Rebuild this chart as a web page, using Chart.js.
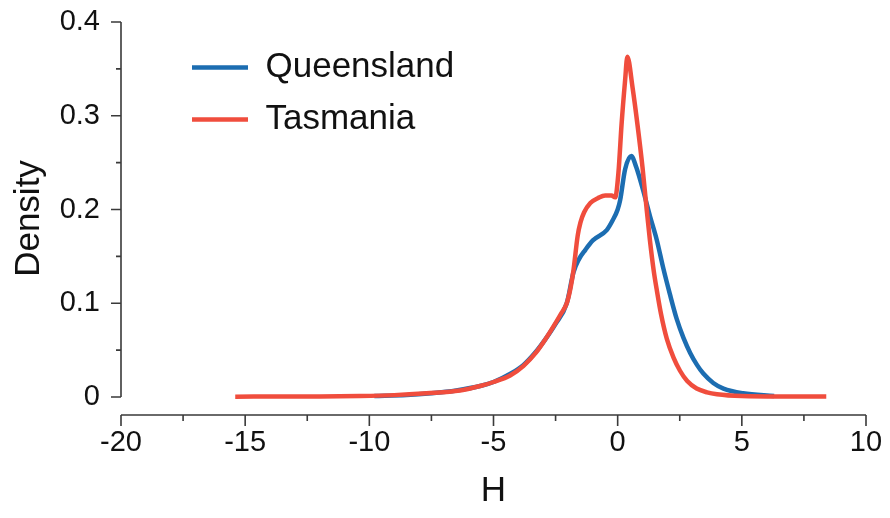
<!DOCTYPE html>
<html lang="en">
<head>
  <meta charset="UTF-8" />
  <title>Density of H</title>
  <script src="https://cdn.jsdelivr.net/npm/chart.js"></script>
  <style>
    html, body { margin: 0; padding: 0; background: #fff; }
    #wrap { width: 890px; height: 518px; }
  </style>
</head>
<body>
  <div id="wrap"><canvas id="chart" width="890" height="518"></canvas></div>

  <script>
    // values
    const hQueensland = [-9.8, -8.5, -7.5, -6.5, -5.5, -5, -4.3, -3.8, -3.3, -2.9, -2.5, -2.05, -1.78, -1.58, -1.3, -1.0, -0.44, -0.19, 0.0, 0.1, 0.3, 0.55, 0.75, 1.03, 1.3, 1.57, 1.84, 2.1, 2.38, 2.65, 2.92, 3.2, 3.45, 3.85, 4.26, 5.05, 6.3];
    const densityQueensland = [0.001, 0.002, 0.004, 0.007, 0.012, 0.016, 0.025, 0.034, 0.048, 0.062, 0.078, 0.100, 0.133, 0.146, 0.157, 0.167, 0.178, 0.189, 0.200, 0.210, 0.243, 0.257, 0.245, 0.220, 0.193, 0.168, 0.137, 0.110, 0.083, 0.063, 0.047, 0.034, 0.025, 0.015, 0.009, 0.004, 0.001];

    const hTasmania = [-15.4, -12, -10.4, -9, -7.7, -6.35, -5.5, -5.0, -4.33, -3.8, -3.3, -2.9, -2.59, -2.3, -2.05, -1.9, -1.78, -1.61, -1.5, -1.35, -1.1, -0.8, -0.5, -0.25, -0.1, 0.03, 0.16, 0.3, 0.39, 0.6, 0.8, 1.0, 1.15, 1.3, 1.45, 1.57, 1.75, 1.98, 2.25, 2.51, 2.8, 3.18, 3.6, 4.0, 5.0, 6.5, 8.4];
    const densityTasmania = [0.0004, 0.0005, 0.001, 0.002, 0.004, 0.007, 0.012, 0.016, 0.023, 0.033, 0.047, 0.062, 0.075, 0.088, 0.100, 0.116, 0.135, 0.172, 0.186, 0.197, 0.207, 0.212, 0.215, 0.215, 0.213, 0.239, 0.292, 0.338, 0.363, 0.330, 0.290, 0.245, 0.205, 0.167, 0.135, 0.115, 0.088, 0.062, 0.042, 0.028, 0.017, 0.009, 0.005, 0.003, 0.001, 0.0005, 0.0005];

    const xTicks = [-20, -15, -10, -5, 0, 5, 10];
    const yTicks = [0, 0.1, 0.2, 0.3, 0.4];
    const yTickLabels = ['0', '0.1', '0.2', '0.3', '0.4'];

    const BLUE = '#1c6db1';
    const RED = '#f04d3d';
    const AXIS = '#3a3a3a';
    const FONT = "'Liberation Sans', Arial, sans-serif";

    const toPoints = (xs, ys) => xs.map((x, i) => ({ x, y: ys[i] }));

    // detached axis lines with major + minor ticks (x axis sits below y = 0)
    const offsetAxes = {
      id: 'offsetAxes',
      afterDraw(chart) {
        const { ctx, chartArea, scales } = chart;
        const xs = scales.x, ys = scales.y;
        ctx.save();
        ctx.strokeStyle = AXIS;
        ctx.lineWidth = 1.6;
        ctx.beginPath();
        // x axis
        const yx = chartArea.bottom;
        ctx.moveTo(xs.getPixelForValue(xTicks[0]), yx);
        ctx.lineTo(xs.getPixelForValue(xTicks[xTicks.length - 1]), yx);
        for (let v = xTicks[0]; v <= xTicks[xTicks.length - 1] + 1e-9; v += 2.5) {
          const px = xs.getPixelForValue(v);
          const len = Math.abs(v % 5) < 1e-9 ? 11 : 6;
          ctx.moveTo(px, yx);
          ctx.lineTo(px, yx + len);
        }
        // y axis
        const xy = chartArea.left;
        ctx.moveTo(xy, ys.getPixelForValue(yTicks[0]));
        ctx.lineTo(xy, ys.getPixelForValue(yTicks[yTicks.length - 1]));
        for (let i = 0; i <= 8; i++) {
          const v = i * 0.05;
          const py = ys.getPixelForValue(v);
          const len = i % 2 === 0 ? 10 : 5;
          ctx.moveTo(xy, py);
          ctx.lineTo(xy - len, py);
        }
        ctx.stroke();
        ctx.restore();
      }
    };

    // nudge the in-plot legend to where the figure has it
    const legendShift = {
      id: 'legendShift',
      beforeDraw(chart) {
        const lg = chart.legend;
        if (!lg) return;
        lg.left = chart.chartArea.left + 54;
        lg.top = chart.chartArea.top + 11;
      }
    };

    new Chart(document.getElementById('chart'), {
      type: 'line',
      data: {
        datasets: [
          { label: 'Queensland', data: toPoints(hQueensland, densityQueensland), borderColor: BLUE, backgroundColor: BLUE, borderWidth: 4.5, pointRadius: 0, cubicInterpolationMode: 'monotone', order: 1 },
          { label: 'Tasmania', data: toPoints(hTasmania, densityTasmania), borderColor: RED, backgroundColor: RED, borderWidth: 4.5, pointRadius: 0, cubicInterpolationMode: 'monotone', order: 0 }
        ]
      },
      options: {
        responsive: false,
        animation: false,
        layout: { padding: { top: 22, right: 24, left: 0, bottom: 0 } },
        plugins: {
          tooltip: { enabled: false },
          legend: {
            position: 'chartArea',
            align: 'start',
            labels: {
              usePointStyle: true,
              pointStyle: 'line',
              pointStyleWidth: 56,
              padding: 17,
              color: '#111',
              font: { family: FONT, size: 35 },
              sort: (a, b) => a.datasetIndex - b.datasetIndex
            }
          }
        },
        scales: {
          x: {
            type: 'linear',
            min: -20,
            max: 10,
            afterBuildTicks: s => { s.ticks = xTicks.map(v => ({ value: v })); },
            afterFit: s => { s.height = 103; s.paddingLeft = 0; s.paddingRight = 0; },
            grid: { display: false },
            border: { display: false },
            ticks: { color: '#111', padding: 3, maxRotation: 0, font: { family: FONT, size: 29 } },
            title: { display: true, text: 'H', color: '#111', padding: { top: 0, bottom: 6 }, font: { family: FONT, size: 35 } }
          },
          y: {
            min: -0.0192,
            max: 0.4,
            afterBuildTicks: s => { s.ticks = yTicks.map(v => ({ value: v })); },
            afterFit: s => { s.width = 121; s.paddingTop = 0; s.paddingBottom = 0; },
            grid: { display: false },
            border: { display: false },
            ticks: {
              color: '#111',
              padding: 13,
              font: { family: FONT, size: 29 },
              callback: (v) => yTickLabels[yTicks.findIndex(t => Math.abs(t - v) < 1e-9)]
            },
            title: { display: true, text: 'Density', color: '#111', padding: { top: 8, bottom: 0 }, font: { family: FONT, size: 35 } }
          }
        }
      },
      plugins: [offsetAxes, legendShift]
    });
  </script>
</body>
</html>
